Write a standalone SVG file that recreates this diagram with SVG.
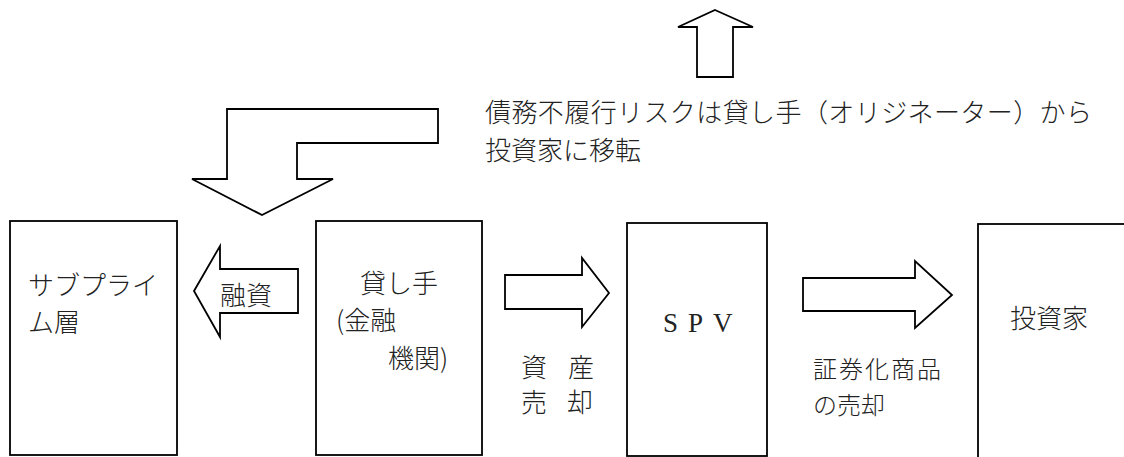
<svg xmlns="http://www.w3.org/2000/svg" width="1124" height="457" viewBox="0 0 1124 457">
  <style>
    .box { fill: #ffffff; stroke: #000000; stroke-width: 1.8; }
    .arr { fill: #ffffff; stroke: #000000; stroke-width: 1.8; stroke-linejoin: miter; }
    .t { font-family: "Noto Sans CJK JP", "Noto Sans CJK SC", sans-serif; font-size: 26px; font-weight: 300; fill: #222222; }
    .s { font-size: 24px; }
    .lat { font-family: "Liberation Serif", serif; font-size: 27px; fill: #222222; }
  </style>
  <rect width="1124" height="457" fill="#ffffff"/>

  <g id="connectors">
    <path id="arrow-up" class="arr" d="M715,10 L753,27 L733,27 L733,77 L697,77 L697,27 L678,27 Z"/>
    <path id="arrow-bent" class="arr" d="M227,179 L227,109 L438,109 L438,143 L297,143 L297,179 L333,179 L262,215 L192,179 Z"/>
    <path id="arrow-loan" class="arr" d="M194,291 L220,246 L220,269 L298,269 L298,313 L220,313 L220,337 Z"/>
    <path id="arrow-asset" class="arr" d="M505,275 L582,275 L582,258 L609,293 L582,327 L582,309 L505,309 Z"/>
    <path id="arrow-sec" class="arr" d="M803,278 L915,278 L915,261 L952,295 L915,328 L915,311 L803,311 Z"/>
    <text class="t" x="220" y="305">融資</text>
    <text class="t" x="521 547 568" y="377">資 産</text>
    <text class="t" x="521 547 567" y="412">売 却</text>
    <text class="t s" x="813" y="378" letter-spacing="2">証券化商品</text>
    <text class="t s" x="813" y="414">の売却</text>
  </g>

  <g id="note">
    <text class="t" x="485" y="122" textLength="607" lengthAdjust="spacing">債務不履行リスクは貸し手（オリジネーター）から</text>
    <text class="t" x="485" y="160">投資家に移転</text>
  </g>

  <g id="node-subprime">
    <rect class="box" x="10" y="221" width="167" height="234"/>
    <text class="t" x="28" y="295">サブプライ</text>
    <text class="t" x="28" y="332">ム層</text>
  </g>

  <g id="node-lender">
    <rect class="box" x="316" y="221" width="166" height="234"/>
    <text class="t" x="360" y="293">貸し手</text>
    <text class="t" x="336" y="330">(金融</text>
    <text class="t" x="388" y="368">機関)</text>
  </g>

  <g id="node-spv">
    <rect class="box" x="627" y="223" width="140" height="233"/>
    <text class="lat" x="663 688 713" y="332">SPV</text>
  </g>

  <g id="node-investor">
    <rect class="box" x="978" y="224" width="200" height="260"/>
    <text class="t" x="1010" y="328">投資家</text>
  </g>
</svg>
